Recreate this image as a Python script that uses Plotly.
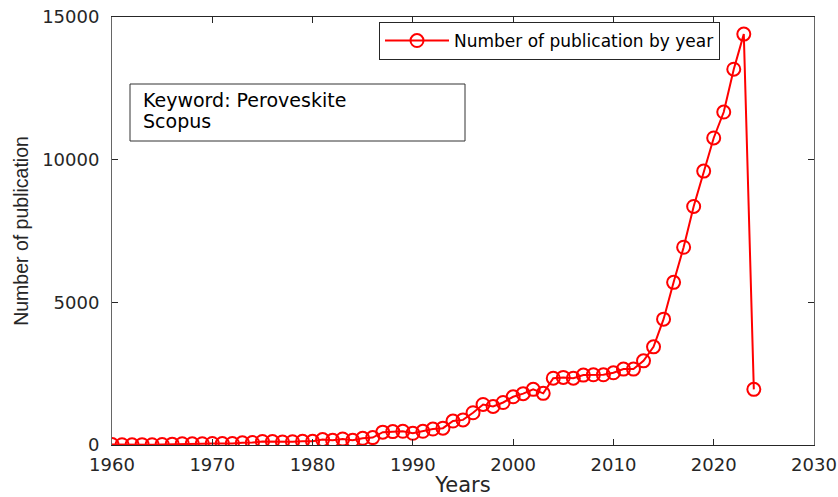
import plotly.graph_objects as go

# Publications per year for the keyword "Peroveskite" (Scopus)
years = list(range(1960, 2025))
publications = [
    15, 10, 8, 12, 10, 18, 30, 45, 40, 45,            # 1960-1969
    55, 50, 55, 75, 85, 125, 120, 105, 115, 130,      # 1970-1979
    130, 190, 165, 210, 165, 235, 260, 450, 470, 480, # 1980-1989
    410, 480, 560, 590, 840, 880, 1130, 1420, 1350, 1490,   # 1990-1999
    1690, 1800, 1950, 1810, 2340, 2370, 2340, 2450, 2460, 2460,  # 2000-2009
    2530, 2660, 2660, 2950, 3440, 4410, 5700, 6930, 8360, 9600,  # 2010-2019
    10760, 11670, 13170, 14400, 1950,                  # 2020-2024
]

x_ticks = [1960, 1970, 1980, 1990, 2000, 2010, 2020, 2030]
y_ticks = [0, 5000, 10000, 15000]
y_tick_labels = ["0", "5000", "10000", "15000"]

series_name = "Number of publication by year"
info_lines = ["Keyword: Peroveskite", "Scopus"]

RED = "#ff0000"
INK = "#262626"
FONT = "DejaVu Sans"

fig = go.Figure()
fig.add_trace(go.Scatter(
    x=years, y=publications, mode="lines+markers", name=series_name,
    line=dict(color=RED, width=2),
    marker=dict(symbol="circle-open", size=13, color=RED, line=dict(width=2, color=RED)),
))

W, H = 838, 497
ML, MR, MT, MB = 112, 24, 17, 52
pw, ph = W - ML - MR, H - MT - MB


def px(x):
    return (x - ML) / pw


def py(y):
    return (H - MB - y) / ph


fig.update_layout(
    width=W, height=H,
    margin=dict(l=ML, r=MR, t=MT, b=MB),
    paper_bgcolor="white", plot_bgcolor="white",
    font=dict(family=FONT, color=INK),
    showlegend=True,
    legend=dict(
        x=px(720), xanchor="right", y=py(22), yanchor="top",
        bordercolor=INK, borderwidth=1, bgcolor="white",
        font=dict(size=17, family=FONT, color="black"),
        itemwidth=64,
    ),
    xaxis=dict(
        range=[1960, 2030], tickvals=x_ticks, automargin=False,
        showgrid=False, zeroline=False,
        showline=True, linecolor=INK, linewidth=1, mirror="ticks",
        ticks="inside", ticklen=6, tickcolor=INK, tickwidth=1,
        tickfont=dict(size=18, family=FONT, color=INK),
        ticklabelstandoff=3,
        title=dict(text="Years", font=dict(size=21, family=FONT, color=INK), standoff=9),
    ),
    yaxis=dict(
        range=[0, 15000], tickvals=y_ticks, ticktext=y_tick_labels, automargin=False,
        showgrid=False, zeroline=False,
        showline=True, linecolor="#666666", linewidth=1, mirror="ticks",
        ticks="inside", ticklen=6, tickcolor=INK, tickwidth=1,
        tickfont=dict(size=18, family=FONT, color=INK),
        ticklabelstandoff=8,
        title=dict(text="Number of publication",
                   font=dict(size=19.5, family="Liberation Sans", color=INK),
                   standoff=8),
    ),
)

# Boxed note in the upper-left part of the axes
fig.add_shape(type="rect", xref="paper", yref="paper",
              x0=px(130), x1=px(465), y0=py(141), y1=py(84),
              line=dict(color="#333333", width=1), fillcolor="white", layer="above")
for txt, yc in zip(info_lines, [100, 121]):
    fig.add_annotation(text=txt, xref="paper", yref="paper", x=px(141), y=py(yc),
                       xanchor="left", yanchor="middle", showarrow=False,
                       font=dict(size=19, family=FONT, color="black"))

fig.write_html("out.html")
